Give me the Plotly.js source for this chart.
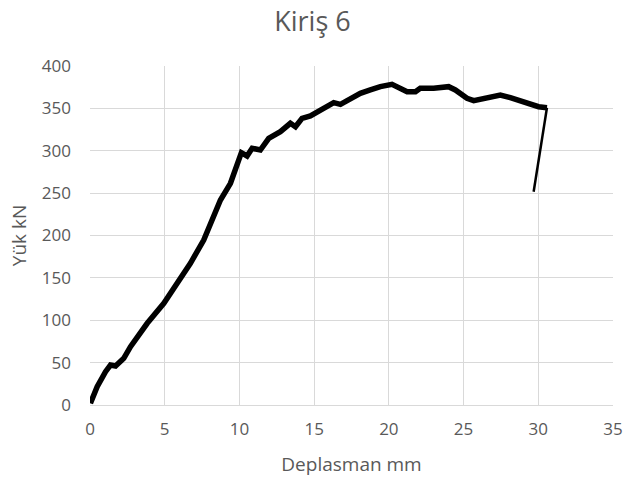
<!DOCTYPE html>
<html>
<head>
<meta charset="utf-8">
<script src="https://cdn.plot.ly/plotly-3.0.1.min.js"></script>
<style>html,body{margin:0;padding:0;background:#fff;}#chart{width:625px;height:484px;}</style>
</head>
<body>
<div id="chart"></div>
<script>
const deplasman = [0.03, 0.48, 1.04, 1.37, 1.71, 2.26, 2.71, 3.16, 3.83, 4.94, 5.83, 6.72, 7.61, 8.17, 8.73, 9.40, 9.85, 10.13, 10.51, 10.85, 11.4, 11.96, 12.74, 13.41, 13.75, 14.19, 14.75, 15.42, 16.31, 16.76, 17.42, 18.09, 18.76, 19.43, 20.21, 20.54, 21.22, 21.78, 22.1, 23.0, 24.0, 24.45, 25.23, 25.68, 26.57, 27.46, 28.13, 29.24, 30.02, 30.58, 29.69];
const yuk = [2, 21.6, 39.3, 47.2, 46, 55, 68.8, 80.6, 96.4, 120, 143.6, 167.2, 194.7, 218.3, 241.9, 261.6, 285.2, 297.7, 293.8, 302.9, 300.9, 314.7, 322.5, 332.4, 328.4, 338.3, 341, 348, 356.7, 354.8, 360.7, 367.8, 371.7, 375.6, 378.4, 375.6, 369.7, 369.7, 373.7, 373.7, 375.6, 371.7, 361.9, 359.1, 362.6, 365.8, 362.6, 356, 352, 350.8, 251.7];
const xTicks = [0, 5, 10, 15, 20, 25, 30, 35];
const yTicks = [0, 50, 100, 150, 200, 250, 300, 350, 400];

const n = deplasman.length;
const traces = [
  {x: deplasman.slice(0, n - 1), y: yuk.slice(0, n - 1), mode: 'lines', line: {color: '#000', width: 5.5}, hoverinfo: 'skip'},
  {x: deplasman.slice(n - 2), y: yuk.slice(n - 2), mode: 'lines', line: {color: '#000', width: 2.5}, hoverinfo: 'skip'}
];
const txt = '#595959';
const layout = {
  width: 625, height: 484,
  margin: {l: 90, r: 12, t: 66, b: 79},
  paper_bgcolor: '#fff', plot_bgcolor: '#fff',
  showlegend: false,
  font: {family: 'Open Sans, sans-serif', color: txt, size: 16},
  title: {text: 'Kiriş 6', x: 0.5, xref: 'container', xanchor: 'center', y: 0.955, yref: 'container', yanchor: 'middle', font: {size: 27, color: txt}},
  xaxis: {range: [0, 35], tickvals: xTicks, showgrid: true, gridcolor: '#d9d9d9', gridwidth: 1, zeroline: false,
    showline: true, linecolor: '#d9d9d9', ticks: '', ticklabelstandoff: 9, tickfont: {size: 17, color: txt},
    title: {text: 'Deplasman mm', font: {size: 19, color: txt}, standoff: 18}},
  yaxis: {range: [0, 400], tickvals: yTicks, showgrid: true, gridcolor: '#d9d9d9', gridwidth: 1, zeroline: false,
    showline: false, ticks: '', ticklabelstandoff: 18, tickfont: {size: 17, color: txt},
    title: {text: 'Yük kN', font: {size: 19, color: txt}, standoff: 10}}
};
Plotly.newPlot('chart', traces, layout, {staticPlot: true, displayModeBar: false});
</script>
</body>
</html>
